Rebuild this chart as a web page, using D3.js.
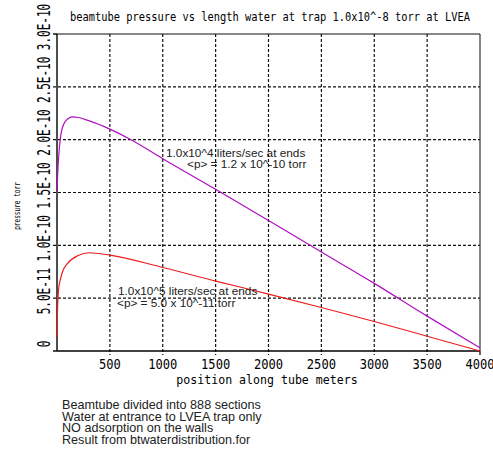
<!DOCTYPE html>
<html>
<head>
<meta charset="utf-8">
<script src="https://cdn.jsdelivr.net/npm/d3@7"></script>
<style>
  body { margin: 0; background: #fff; }
  .mono { font-family: "DejaVu Sans Mono", monospace; fill: #000; }
  .note { font-family: "Liberation Sans", Arial, sans-serif; fill: #222; }
</style>
</head>
<body>
<svg id="chart"></svg>
<script>
// position along tube (m) and pressure (torr) for each pumping speed
const purplePos = [0, 10, 25, 50, 100, 150, 200, 300, 500, 700, 1000, 1500, 2000, 2500, 3000, 3500, 4000];
const purpleP = [1.52e-10, 1.75e-10, 1.95e-10, 2.11e-10, 2.195e-10, 2.215e-10, 2.21e-10, 2.18e-10, 2.10e-10, 2.0e-10,
                 1.82e-10, 1.53e-10, 1.235e-10, 0.937e-10, 0.64e-10, 0.33e-10, 0.03e-10];
const redPos = [0, 5, 15, 30, 60, 100, 200, 300, 500, 1000, 1500, 2000, 2500, 3000, 3500, 4000];
const redP = [1.32e-11, 3.9e-11, 5.8e-11, 6.7e-11, 7.7e-11, 8.3e-11, 9.04e-11, 9.3e-11, 9.08e-11,
              7.9e-11, 6.62e-11, 5.39e-11, 4.12e-11, 2.79e-11, 1.4e-11, 0];

const xTicks = [500, 1000, 1500, 2000, 2500, 3000, 3500, 4000];
const yTicks = [0, 5e-11, 1e-10, 1.5e-10, 2e-10, 2.5e-10, 3e-10];
const yTickLabels = ["0", "5.0E-11", "1.0E-10", "1.5E-10", "2.0E-10", "2.5E-10", "3.0E-10"];

const titleText = "beamtube pressure vs length water at trap 1.0x10^-8 torr at LVEA";
const xTitle = "position along tube meters";
const yTitle = "pressure torr";
const purpleNote = ["1.0x10^4 liters/sec at ends", "<p> = 1.2 x 10^-10 torr"];
const redNote = ["1.0x10^5 liters/sec at ends", "<p> = 5.0 x 10^-11 torr"];
const footNotes = ["Beamtube divided into 888 sections", "Water at entrance to LVEA trap only",
                   "NO adsorption on the walls", "Result from btwaterdistribution.for"];

const W = 493, H = 462;
const margin = {top: 34, right: 13, bottom: 111, left: 57};
const width = W - margin.left - margin.right;
const height = H - margin.top - margin.bottom;

const svg = d3.select("#chart").attr("width", W).attr("height", H);
const g = svg.append("g").attr("transform", `translate(${margin.left},${margin.top})`);

const x = d3.scaleLinear().domain([0, 4000]).range([0, width]);
const y = d3.scaleLinear().domain([0, 3e-10]).range([height, 0]);

// grid
g.append("g").selectAll("line").data(xTicks.slice(0, -1)).join("line")
  .attr("x1", d => x(d)).attr("x2", d => x(d)).attr("y1", 0).attr("y2", height + 4)
  .attr("stroke", "#111").attr("stroke-width", 1.2).attr("stroke-dasharray", "3,2");
g.append("g").selectAll("line").data(yTicks.slice(1, -1)).join("line")
  .attr("x1", -4).attr("x2", width).attr("y1", d => y(d)).attr("y2", d => y(d))
  .attr("stroke", "#111").attr("stroke-width", 1.2).attr("stroke-dasharray", "3,2");

// frame
g.append("line").attr("x1", 0).attr("x2", width).attr("y1", 0).attr("y2", 0).attr("stroke", "#111").attr("stroke-width", 1.2);
g.append("line").attr("x1", width).attr("x2", width).attr("y1", 0).attr("y2", height).attr("stroke", "#333").attr("stroke-width", 1.2);
g.append("line").attr("x1", 0).attr("x2", 0).attr("y1", 0).attr("y2", height).attr("stroke", "#000").attr("stroke-width", 1.4);
g.append("line").attr("x1", 0).attr("x2", width).attr("y1", height).attr("y2", height).attr("stroke", "#000").attr("stroke-width", 1.4);
g.append("g").selectAll("line").data([0, 3e-10]).join("line")
  .attr("x1", -4).attr("x2", 0).attr("y1", d => y(d)).attr("y2", d => y(d)).attr("stroke", "#000").attr("stroke-width", 1.4);
g.append("line").attr("x1", width).attr("x2", width).attr("y1", height).attr("y2", height + 4).attr("stroke", "#000").attr("stroke-width", 1.2);

// curves
const line = d3.line().x(d => x(d[0])).y(d => y(d[1])).curve(d3.curveMonotoneX);
g.append("path").datum(purplePos.map((p, i) => [p, purpleP[i]]))
  .attr("d", line).attr("fill", "none").attr("stroke", "#b010c0").attr("stroke-width", 1.2);
g.append("path").datum(redPos.map((p, i) => [p, redP[i]]))
  .attr("d", line).attr("fill", "none").attr("stroke", "#ee1c1c").attr("stroke-width", 1.2);

// stretched monospace text helper
function stretched(parent, tx, ty, rot, sy, size, anchor, txt) {
  parent.append("g").attr("transform", `translate(${tx},${ty}) rotate(${rot}) scale(1,${sy})`)
    .append("text").attr("class", "mono").attr("font-size", size).attr("text-anchor", anchor).text(txt);
}

stretched(svg, 270, 21, 0, 1.2, 10.4, "middle", titleText);
xTicks.forEach(t => stretched(g, x(t), height + 18, 0, 1.15, 12.1, "middle", t));
yTicks.forEach((t, i) => stretched(g, -7, y(t) - 7, -90, 1.65, 11, "middle", yTickLabels[i]));
stretched(svg, 267, 384, 0, 1.12, 11.6, "middle", xTitle);
stretched(svg, 20, 206, -90, 1.45, 6.1, "middle", yTitle);

// annotations
const addLines = (lines, xs, ys) => lines.forEach((t, i) =>
  svg.append("text").attr("class", "note").attr("x", xs[i]).attr("y", ys[i]).attr("font-size", 11.8).text(t));
addLines(purpleNote, [166, 187], [157, 168]);
addLines(redNote, [118, 117], [295, 307]);
footNotes.forEach((t, i) =>
  svg.append("text").attr("class", "note").attr("x", 62).attr("y", 409 + i * 11.7).attr("font-size", 12.6).text(t));
</script>
</body>
</html>
